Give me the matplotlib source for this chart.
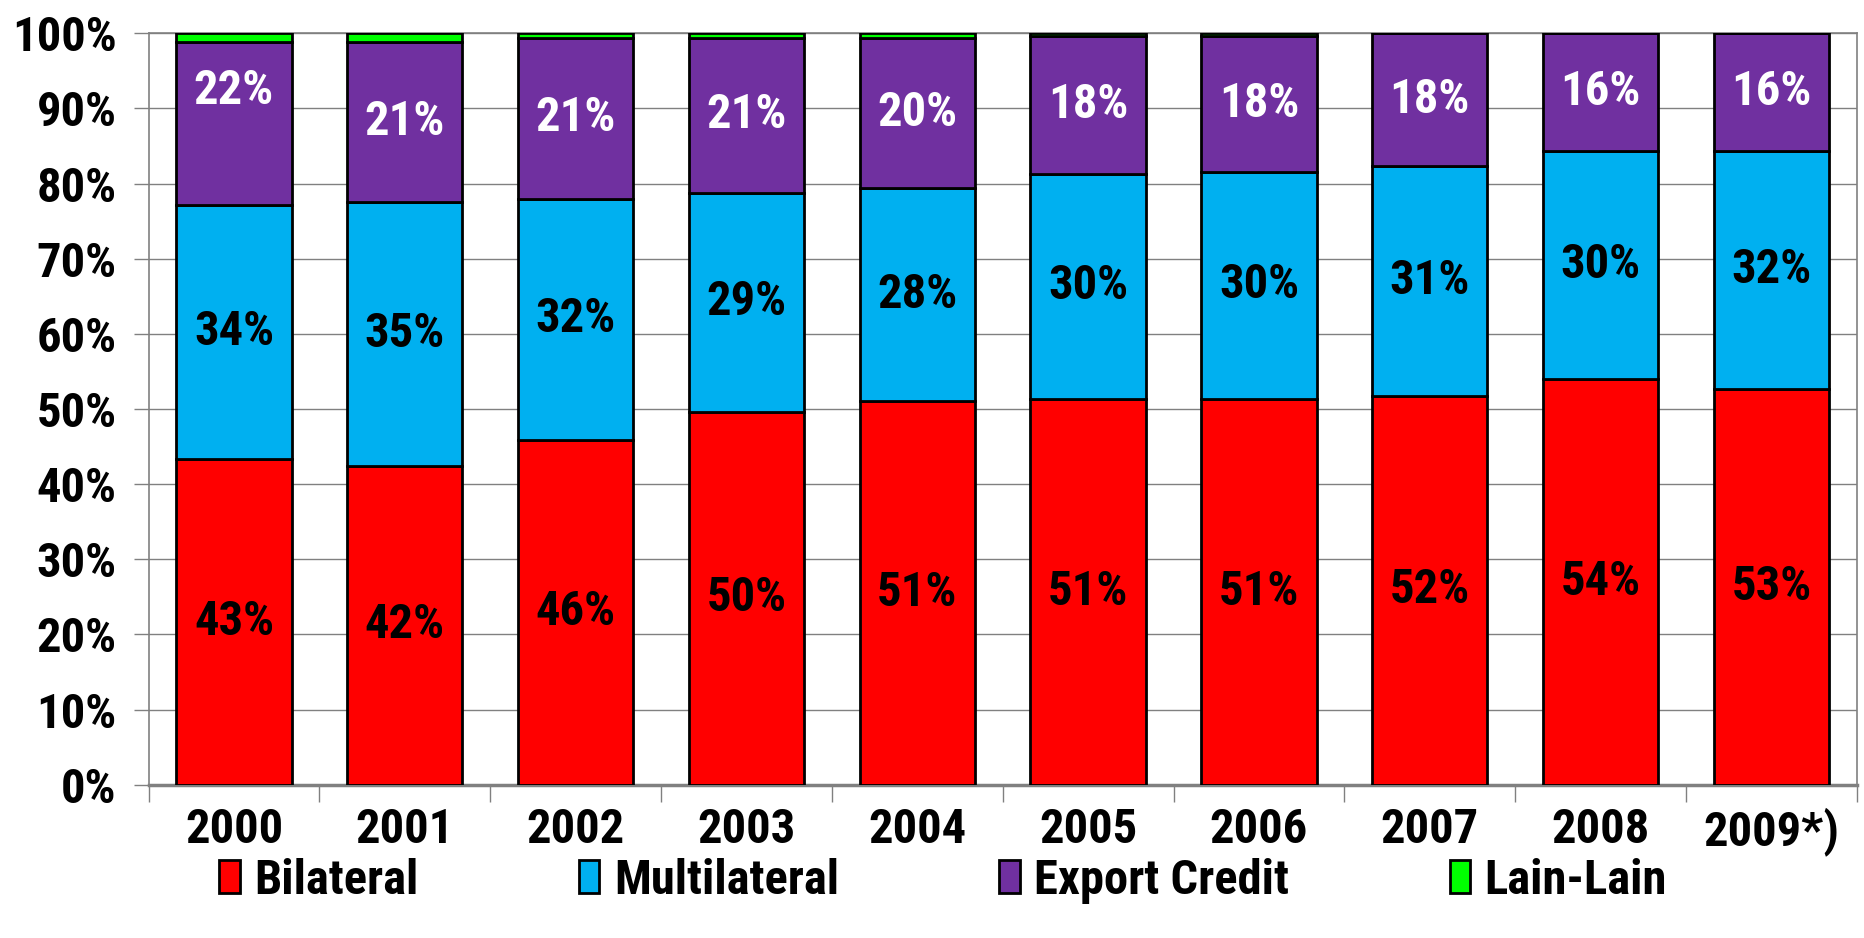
import numpy as np
import matplotlib
matplotlib.use("Agg")
import matplotlib.pyplot as plt
from matplotlib.ticker import FixedLocator, PercentFormatter

# Shares per year (percent of total)
years = ["2000", "2001", "2002", "2003", "2004", "2005", "2006", "2007", "2008", "2009*)"]
bilateral = [43.4, 42.4, 45.9, 49.6, 51.0, 51.3, 51.3, 51.7, 54.0, 52.7]
multilateral = [33.8, 35.1, 32.1, 29.2, 28.4, 30.0, 30.3, 30.6, 30.3, 31.6]
export_credit = [21.7, 21.3, 21.4, 20.6, 20.0, 18.4, 18.1, 17.7, 15.7, 15.7]
lain_lain = [1.1, 1.2, 0.6, 0.6, 0.6, 0.3, 0.3, 0.0, 0.0, 0.0]

series_names = ["Bilateral", "Multilateral", "Export Credit", "Lain-Lain"]
series_colors = ["#FF0000", "#00B0F0", "#7030A0", "#00FF00"]
label_colors = ["black", "black", "white", None]

# condensed bold face, close to the narrow Arial of the original
plt.rcParams["font.family"] = ["Roboto Condensed", "Liberation Sans", "DejaVu Sans"]
plt.rcParams["font.weight"] = "bold"
FS = 35

fig = plt.figure(figsize=(18.64, 9.38), dpi=100)
ax = fig.add_axes([0.0797, 0.1635, 0.9165, 0.801])

x = np.arange(len(years))
bottom = np.zeros(len(years))
all_series = [bilateral, multilateral, export_credit, lain_lain]

# the 2000 export credit label sits a bit higher in the original
label_shift = {("Export Credit", 0): 4.3}

for vals, name, col, lcol in zip(all_series, series_names, series_colors, label_colors):
    vals = np.array(vals)
    ax.bar(x, vals, bottom=bottom, width=0.675, color=col, edgecolor="black",
           linewidth=2.0, label=name, zorder=3)
    if lcol is not None:
        for xi, b, v in zip(x, bottom, vals):
            y = b + v / 2 + label_shift.get((name, xi), 0)
            ax.text(xi, y, f"{v:.0f}%", ha="center", va="center",
                    color=lcol, fontsize=FS, fontweight="bold", zorder=4)
    bottom += vals

# axes, grid and ticks
ax.set_xlim(-0.5, len(years) - 0.5)
ax.set_ylim(0, 100)
ax.yaxis.set_major_locator(FixedLocator(np.arange(0, 101, 10)))
ax.yaxis.set_major_formatter(PercentFormatter(decimals=0))
ax.grid(axis="y", color="#808080", lw=1.0, zorder=0)
ax.set_axisbelow(True)

ax.set_xticks(x)
ax.set_xticklabels(years)
ax.set_xticks(np.arange(-0.5, len(years)), minor=True)
ax.tick_params(axis="x", which="major", length=0, pad=16, labelsize=FS)
ax.tick_params(axis="x", which="minor", length=12, width=1, color="#808080", direction="out")
ax.tick_params(axis="y", length=11, width=1, color="#808080", pad=12, labelsize=FS)

for side in ["left", "right", "top"]:
    ax.spines[side].set_color("#808080")
    ax.spines[side].set_linewidth(1.2)
ax.spines["bottom"].set_color("#808080")
ax.spines["bottom"].set_linewidth(2.5)

leg = fig.legend(loc="center", bbox_to_anchor=(0.506, 0.061), ncol=4, frameon=False,
                 fontsize=FS, handlelength=0.42, handleheight=0.66, handletextpad=0.3,
                 columnspacing=3.3)

fig.savefig("out.png", dpi=100)
